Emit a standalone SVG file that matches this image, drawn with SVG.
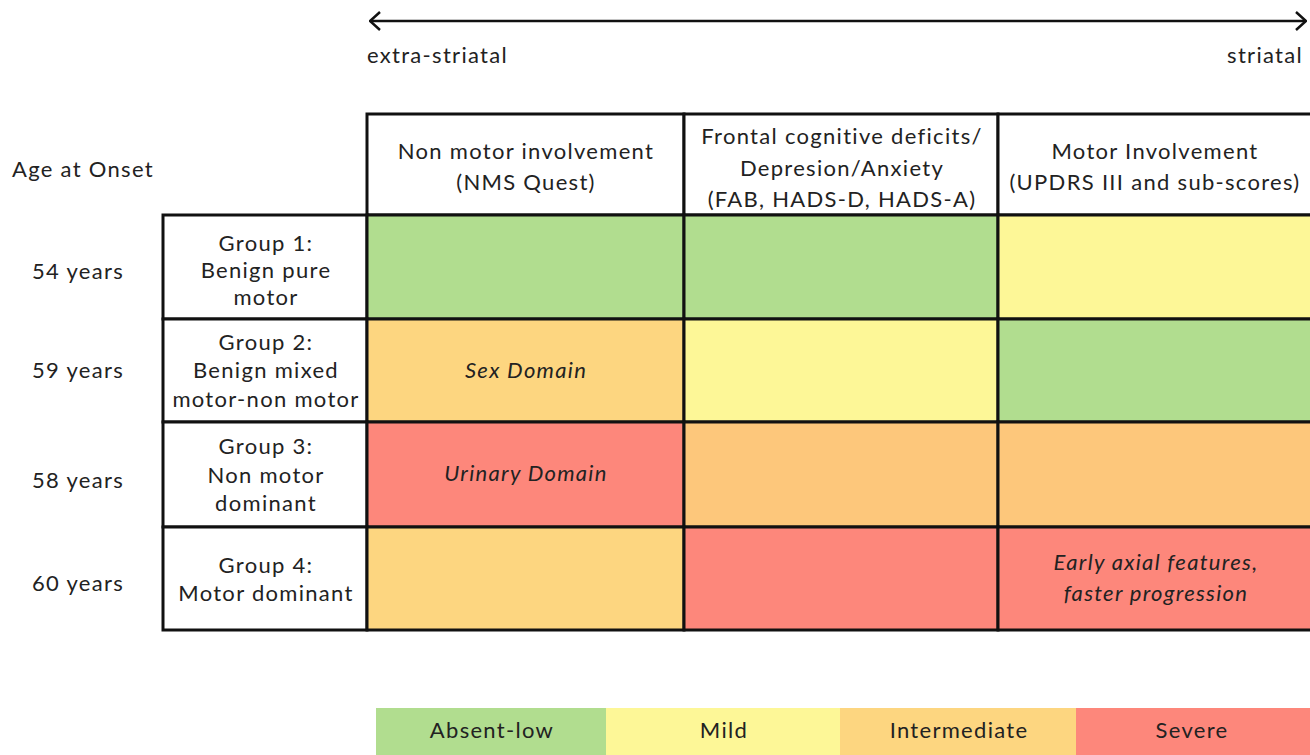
<svg xmlns="http://www.w3.org/2000/svg" width="1310" height="755" viewBox="0 0 1310 755">
<style>
text{font-family:Lato,"Open Sans","Liberation Sans",sans-serif;font-size:22px;letter-spacing:1.3px;fill:#222;text-anchor:middle}
.it{font-style:italic}
.l{text-anchor:start}
.r{text-anchor:end}
.cell{stroke:#111;stroke-width:3}
.g{fill:#b1dd8f}.y{fill:#fdf797}.lo{fill:#fdd680}.o{fill:#fdc77b}.rd{fill:#fd877b}.w{fill:#fff}
</style>
<defs>
<marker id="ah" viewBox="0 0 12 20" refX="11" refY="10" markerWidth="12" markerHeight="20" markerUnits="userSpaceOnUse" orient="auto-start-reverse">
<path d="M1,1 L11,10 L1,19" fill="none" stroke="#111" stroke-width="2.5"/>
</marker>
</defs>
<g id="connectors">
<line x1="370" y1="21" x2="1306" y2="21" stroke="#111" stroke-width="2.5" marker-start="url(#ah)" marker-end="url(#ah)"/>
</g>
<g id="axis-labels">
<text class="l" x="367" y="63">extra-striatal</text>
<text class="r" x="1303" y="63">striatal</text>
<text class="l" x="12" y="177">Age at Onset</text>
</g>
<g id="header">
<rect class="cell w" x="367" y="114" width="317" height="101"/>
<rect class="cell w" x="684" y="114" width="314" height="101"/>
<rect class="cell w" x="998" y="114" width="314" height="101"/>
<text x="526" y="159">Non motor involvement</text>
<text x="526" y="190">(NMS Quest)</text>
<text x="842" y="144">Frontal cognitive deficits/</text>
<text x="842" y="176">Depresion/Anxiety</text>
<text x="842" y="207">(FAB, HADS-D, HADS-A)</text>
<text x="1155" y="159">Motor Involvement</text>
<text x="1155" y="190">(UPDRS III and sub-scores)</text>
</g>
<g id="group1">
<rect class="cell w" x="163" y="215" width="204" height="104"/>
<rect class="cell g" x="367" y="215" width="317" height="104"/>
<rect class="cell g" x="684" y="215" width="314" height="104"/>
<rect class="cell y" x="998" y="215" width="314" height="104"/>
<text x="78" y="279">54 years</text>
<text x="266" y="251">Group 1:</text>
<text x="266" y="278">Benign pure</text>
<text x="266" y="305">motor</text>
</g>
<g id="group2">
<rect class="cell w" x="163" y="319" width="204" height="103"/>
<rect class="cell lo" x="367" y="319" width="317" height="103"/>
<rect class="cell y" x="684" y="319" width="314" height="103"/>
<rect class="cell g" x="998" y="319" width="314" height="103"/>
<text x="78" y="378">59 years</text>
<text x="266" y="350">Group 2:</text>
<text x="266" y="378">Benign mixed</text>
<text x="266" y="407">motor-non motor</text>
<text class="it" x="526" y="378">Sex Domain</text>
</g>
<g id="group3">
<rect class="cell w" x="163" y="422" width="204" height="105"/>
<rect class="cell rd" x="367" y="422" width="317" height="105"/>
<rect class="cell o" x="684" y="422" width="314" height="105"/>
<rect class="cell o" x="998" y="422" width="314" height="105"/>
<text x="78" y="488">58 years</text>
<text x="266" y="454">Group 3:</text>
<text x="266" y="483">Non motor</text>
<text x="266" y="511">dominant</text>
<text class="it" x="526" y="481">Urinary Domain</text>
</g>
<g id="group4">
<rect class="cell w" x="163" y="527" width="204" height="103"/>
<rect class="cell lo" x="367" y="527" width="317" height="103"/>
<rect class="cell rd" x="684" y="527" width="314" height="103"/>
<rect class="cell rd" x="998" y="527" width="314" height="103"/>
<text x="78" y="591">60 years</text>
<text x="266" y="573">Group 4:</text>
<text x="266" y="601">Motor dominant</text>
<text class="it" x="1156" y="570">Early axial features,</text>
<text class="it" x="1156" y="601">faster progression</text>
</g>
<g id="legend">
<rect class="g" x="376" y="708" width="230" height="47"/>
<rect class="y" x="606" y="708" width="234" height="47"/>
<rect class="lo" x="840" y="708" width="236" height="47"/>
<rect class="rd" x="1076" y="708" width="234" height="47"/>
<text x="492" y="738">Absent-low</text>
<text x="724" y="738">Mild</text>
<text x="959" y="738">Intermediate</text>
<text x="1192" y="738">Severe</text>
</g>
</svg>
